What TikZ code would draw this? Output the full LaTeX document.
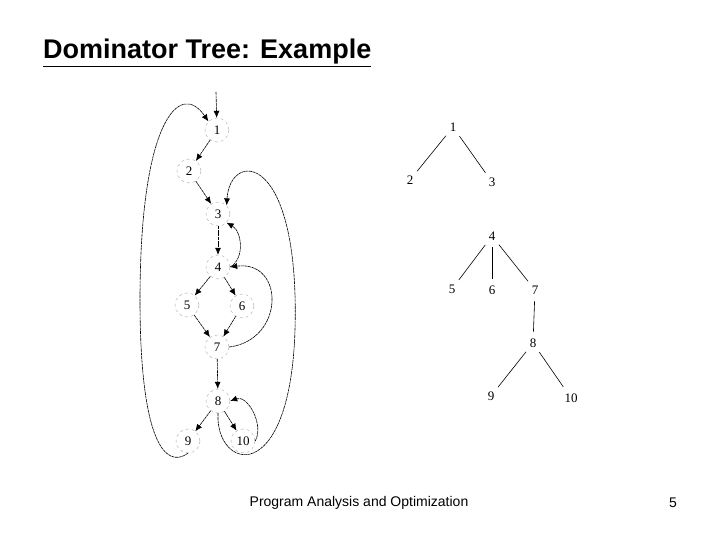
\documentclass[tikz,border=0pt]{standalone}
\usepackage{fontspec}
\setmainfont{Liberation Serif}
\newfontfamily\sansf{Liberation Sans}
\usetikzlibrary{arrows.meta}
\begin{document}
\begin{tikzpicture}[x=1pt,y=-1pt,
  nd/.style={circle,draw=black!35,dashed,minimum size=24pt,inner sep=0pt,font=\fontsize{13}{13}\selectfont},
  tn/.style={circle,inner sep=4pt,font=\fontsize{13}{13}\selectfont},
  ed/.style={-{Latex[length=7pt,width=6pt]},line width=0.6pt,dash pattern=on 3pt off 0.6pt},
  te/.style={line width=0.6pt}]
\useasboundingbox (0,0) rectangle (720,540);
\node[anchor=west,inner sep=0pt,font=\sansf\bfseries\fontsize{27}{27}\selectfont] (title) at (43,53) {\underline{Dominator Tree: Example}};
\node[font=\sansf\fontsize{14}{14}\selectfont] (foot) at (359,503) {Program Analysis and Optimization};
\node[font=\sansf\fontsize{14}{14}\selectfont] (pg) at (673,503) {5};
% left graph
\node[nd] (a1) at (217,130) {1};
\node[nd] (a2) at (189,171) {2};
\node[nd] (a3) at (218,214) {3};
\node[nd] (a4) at (218,267) {4};
\node[nd] (a5) at (187,305) {5};
\node[nd] (a6) at (242,306) {6};
\node[nd] (a7) at (217,347) {7};
\node[nd] (a8) at (218,401) {8};
\node[nd] (a9) at (188,441) {9};
\node[nd] (a10) at (243,441) {10};
\coordinate (entry) at (216,92);
\draw[ed] (entry) -- (a1);
\draw[ed] (a1) -- (a2);
\draw[ed] (a2) -- (a3);
\draw[ed] (a3) -- (a4);
\draw[ed] (a4.east) to[out=30,in=-30] (a3.south east);
\draw[ed] (a4) -- (a5);
\draw[ed] (a4) -- (a6);
\draw[ed] (a5) -- (a7);
\draw[ed] (a6) -- (a7);
\draw[ed] (a7.east) .. controls (285,340) and (285,260) .. (a4.east);
\draw[ed] (a7) -- (a8);
\draw[ed] (a8) -- (a9);
\draw[ed] (a8) -- (a10);
\draw[ed] (a10.east) to[out=60,in=20] (a8.east);
\draw[ed] (a9.south) .. controls (165,470) and (140,440) .. (140,300) .. controls (140,120) and (180,80) .. (a1.north west);
\draw[ed] (a8.south) .. controls (215,470) and (290,490) .. (295,330) .. controls (300,150) and (230,150) .. (a3.north east);
% dominator tree
\node[tn] (b1) at (453,127) {1};
\node[tn] (b2) at (410,180) {2};
\node[tn] (b3) at (492,182) {3};
\node[tn] (b4) at (492,236) {4};
\node[tn] (b5) at (452,289) {5};
\node[tn] (b6) at (492,290) {6};
\node[tn] (b7) at (535,290) {7};
\node[tn] (b8) at (533,343) {8};
\node[tn] (b9) at (491,396) {9};
\node[tn] (b10) at (571,398) {10};
\draw[te] (b1) -- (b2); \draw[te] (b1) -- (b3);
\draw[te] (b4) -- (b5); \draw[te] (b4) -- (b6); \draw[te] (b4) -- (b7);
\draw[te] (b7) -- (b8);
\draw[te] (b8) -- (b9); \draw[te] (b8) -- (b10);
\end{tikzpicture}
\end{document}
